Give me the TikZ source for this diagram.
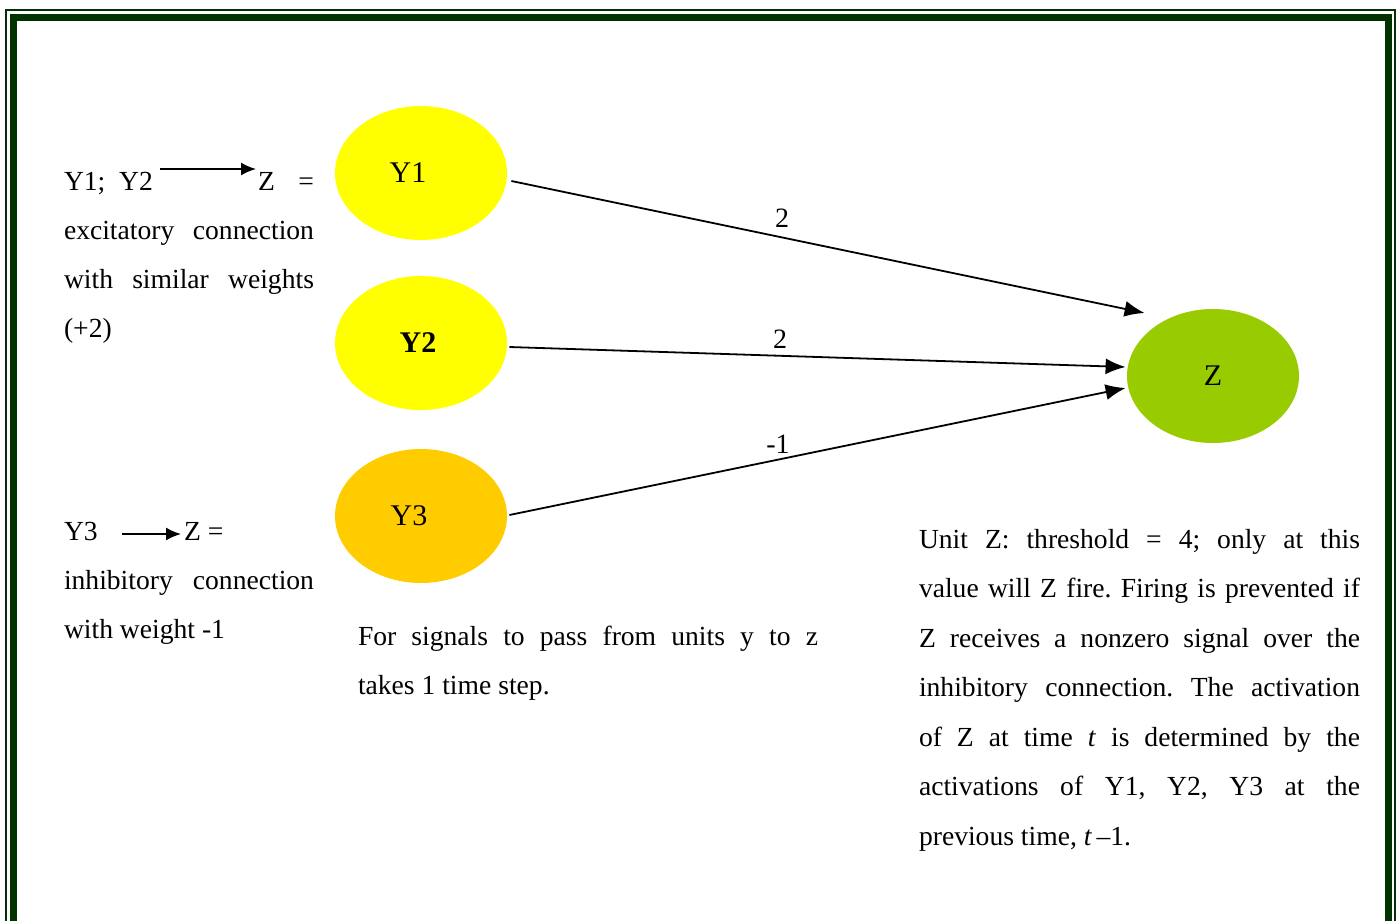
\documentclass[tikz,border=0pt]{standalone}
\usepackage{fontspec}
\setmainfont{Liberation Serif}
\usetikzlibrary{arrows.meta,calc,shapes.geometric}
\definecolor{frame}{HTML}{003300}
\definecolor{ylw}{HTML}{FFFF00}
\definecolor{amber}{HTML}{FFCC00}
\definecolor{lime}{HTML}{99CC00}
\frenchspacing
\tikzset{
  unit/.style={ellipse, minimum width=86pt, minimum height=67pt, inner sep=0pt, draw=none, font=\fontsize{15pt}{17pt}\selectfont},
  txt/.style={inner sep=0pt, outer sep=0pt, anchor=base west},
  wlabel/.style={inner sep=0pt, font=\fontsize{14pt}{16pt}\selectfont},
  conn/.style={line width=0.9pt, -{Latex[length=10pt,width=8pt]}},
  small arrow/.style={line width=0.9pt, -{Latex[length=7.5pt,width=6.5pt]}}
}
\begin{document}
\begin{tikzpicture}[x=0.5pt,y=-0.5pt,font=\fontsize{13.8pt}{16pt}\selectfont]
\useasboundingbox (0,0) rectangle (1398,921);
\clip (0,0) rectangle (1398,921);
% frame
\draw[frame, line width=0.8pt] (5.8,940) -- (5.8,10.2) -- (1394.9,10.2) -- (1394.9,940);
\draw[frame, line width=3.5pt] (13.4,940) -- (13.4,17.6) -- (1388.4,17.6) -- (1388.4,940);

% units
\node[unit, fill=ylw] (Y1) at (421,173) {\hspace*{-13pt}Y1};
\node[unit, fill=ylw] (Y2) at (421,343) {\hspace*{-3pt}\textbf{Y2}};
\node[unit, fill=amber] (Y3) at (421,516) {\hspace*{-12pt}Y3};
\node[unit, fill=lime] (Z) at (1213,376) {Z};

% connections
\draw[conn] ($(Y1.east)+(4,8)$) -- ($(Z.west)+(18,-63)$);
\draw[conn] ($(Y2.east)+(2,4)$) -- ($(Z.west)+(-1,-9)$);
\draw[conn] ($(Y3.east)+(2,-1)$) -- ($(Z.west)+(-1,12)$);
\node[wlabel] (w1) at (782,218) {2};
\node[wlabel] (w2) at (780,339) {2};
\node[wlabel] (w3) at (778,444) {-1};

% left legend, excitatory
\node[txt] (a1) at (64,190) {Y1;\ \ Y2};
\coordinate (a1s) at (160,169);
\coordinate (a1e) at (256,169);
\draw[small arrow] (a1s) -- (a1e);
\node[txt] (a1z) at (258,190) {Z};
\node[txt, anchor=base east] (a1q) at (314,190) {=};
\node[txt] (a2) at (64,239) {\makebox[125pt][s]{excitatory connection}};
\node[txt] (a3) at (64,288) {\makebox[125pt][s]{with similar weights}};
\node[txt] (a4) at (64,337) {(+2)};

% left legend, inhibitory
\node[txt] (b1) at (64,540) {Y3};
\coordinate (b1s) at (122,534);
\coordinate (b1e) at (181,534);
\draw[small arrow] (b1s) -- (b1e);
\node[txt] (b1z) at (184,540) {Z =};
\node[txt] (b2) at (64,589) {\makebox[125pt][s]{inhibitory connection}};
\node[txt] (b3) at (64,638) {with weight -1};

% middle note
\node[txt] (m1) at (358,645) {\makebox[230pt][s]{For signals to pass from units y to z}};
\node[txt] (m2) at (358,694) {takes 1 time step.};

% right note
\node[txt] (r1) at (919,548) {\makebox[220.5pt][s]{Unit Z: threshold = 4; only at this}};
\node[txt] (r2) at (919,597) {\makebox[220.5pt][s]{value will Z fire. Firing is prevented if}};
\node[txt] (r3) at (919,647) {\makebox[220.5pt][s]{Z receives a nonzero signal over the}};
\node[txt] (r4) at (919,696) {\makebox[220.5pt][s]{inhibitory connection. The activation}};
\node[txt] (r5) at (919,746) {\makebox[220.5pt][s]{of Z at time \textit{t} is determined by the}};
\node[txt] (r6) at (919,795) {\makebox[220.5pt][s]{activations of Y1, Y2, Y3 at the}};
\node[txt] (r7) at (919,845) {previous time, \textit{t}\,–1.};
\end{tikzpicture}
\end{document}
